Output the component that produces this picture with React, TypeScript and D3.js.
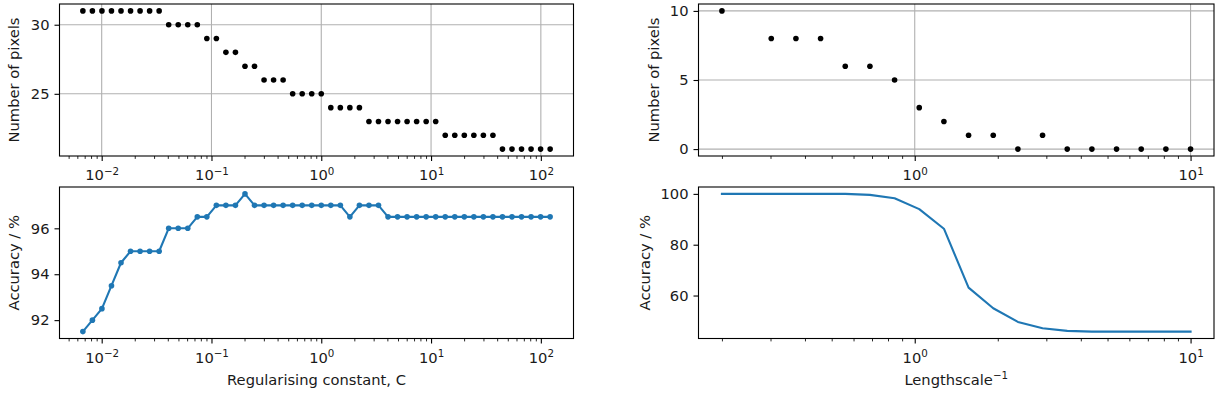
import React, { useEffect, useRef } from 'react';
import * as d3 from 'd3';

// Regularising constant C (log spaced)
const C_VALUES = [
  0.006738, 0.00823, 0.010052, 0.012277, 0.014996, 0.018316, 0.022371, 0.027324, 0.033373, 0.040762,
  0.049787, 0.06081, 0.074274, 0.090718, 0.110803, 0.135335, 0.165299, 0.201897, 0.246597, 0.301194,
  0.367879, 0.449329, 0.548812, 0.67032, 0.818731, 1.0, 1.221403, 1.491825, 1.822119, 2.225541,
  2.718282, 3.320117, 4.0552, 4.953032, 6.049647, 7.389056, 9.025013, 11.023176, 13.463738, 16.444647,
  20.085537, 24.53253, 29.9641, 36.598234, 44.701184, 54.59815, 66.686331, 81.450869, 99.484316, 121.510418,
];

const PIXELS_C = [
  31, 31, 31, 31, 31, 31, 31, 31, 31, 30,
  30, 30, 30, 29, 29, 28, 28, 27, 27, 26,
  26, 26, 25, 25, 25, 25, 24, 24, 24, 24,
  23, 23, 23, 23, 23, 23, 23, 23, 22, 22,
  22, 22, 22, 22, 21, 21, 21, 21, 21, 21,
];

const ACCURACY_C = [
  91.5, 92, 92.5, 93.5, 94.5, 95, 95, 95, 95, 96,
  96, 96, 96.5, 96.5, 97, 97, 97, 97.5, 97, 97,
  97, 97, 97, 97, 97, 97, 97, 97, 96.5, 97,
  97, 97, 96.5, 96.5, 96.5, 96.5, 96.5, 96.5, 96.5, 96.5,
  96.5, 96.5, 96.5, 96.5, 96.5, 96.5, 96.5, 96.5, 96.5, 96.5,
];

// inverse lengthscale
const INV_LENGTHSCALE = [
  0.2, 0.24572, 0.3019, 0.37092, 0.45572, 0.5599, 0.6879, 0.84517, 1.03839, 1.27578,
  1.56745, 1.92578, 2.36604, 2.90694, 3.57151, 4.388, 5.39117, 6.62367, 8.13794, 10.0,
];

const PIXELS_L: (number | null)[] = [10, null, 8, 8, 8, 6, 6, 5, 3, 2, 1, 1, 0, 1, 0, 0, 0, 0, 0, 0];

const ACCURACY_L = [
  100, 100, 100, 100, 100, 100, 99.6, 98.3, 94, 86.3,
  63.1, 55, 49.6, 47.1, 46.1, 45.8, 45.8, 45.8, 45.8, 45.8,
];

const LEFT_X_EXPONENTS = [-2, -1, 0, 1, 2];
const RIGHT_X_EXPONENTS = [0, 1];
const PIXELS_C_TICKS = [25, 30];
const ACCURACY_C_TICKS = [92, 94, 96];
const PIXELS_L_TICKS = [0, 5, 10];
const ACCURACY_L_TICKS = [60, 80, 100];

const FONT = '"DejaVu Sans", Verdana, sans-serif';
const FS = 14.7;
const BLUE = '#1f77b4';
const INK = '#1a1a1a';

type Panel = {
  left: number; right: number; top: number; bottom: number;
  xs: number[]; ys: (number | null)[];
  exps: number[]; yTicks: number[];
  grid: boolean; kind: 'dots' | 'lineDots' | 'line';
  ylabel: string; ylabelX: number;
  xlabel?: string; xlabelSup?: string;
};

function drawPanel(svg: d3.Selection<SVGSVGElement, unknown, null, undefined>, p: Panel) {
  const pts = p.xs.map((x, i) => ({ x, y: p.ys[i] })).filter(d => d.y != null) as { x: number; y: number }[];

  const lx = d3.extent(p.xs.map(Math.log10)) as [number, number];
  const sx = lx[1] - lx[0];
  const x = d3.scaleLog()
    .domain([10 ** (lx[0] - 0.05 * sx), 10 ** (lx[1] + 0.05 * sx)])
    .range([p.left, p.right]);

  const ey = d3.extent(pts, d => d.y) as [number, number];
  const sy = ey[1] - ey[0];
  const y = d3.scaleLinear()
    .domain([ey[0] - 0.05 * sy, ey[1] + 0.05 * sy])
    .range([p.bottom, p.top]);

  const g = svg.append('g');
  const major = p.exps.map(e => 10 ** e);
  const [d0, d1] = x.domain();
  const minor: number[] = [];
  for (let e = Math.floor(Math.log10(d0)); e <= Math.ceil(Math.log10(d1)); e++) {
    for (let m = 2; m <= 9; m++) {
      const v = m * 10 ** e;
      if (v >= d0 && v <= d1) minor.push(v);
    }
  }

  // grid
  if (p.grid) {
    g.append('g').selectAll('line.gx').data(major).enter().append('line')
      .attr('x1', d => x(d)).attr('x2', d => x(d))
      .attr('y1', p.top).attr('y2', p.bottom)
      .attr('stroke', '#b0b0b0').attr('stroke-width', 1.1);
    g.append('g').selectAll('line.gy').data(p.yTicks).enter().append('line')
      .attr('x1', p.left).attr('x2', p.right)
      .attr('y1', d => y(d)).attr('y2', d => y(d))
      .attr('stroke', '#b0b0b0').attr('stroke-width', 1.1);
  }

  // data
  if (p.kind !== 'dots') {
    const line = d3.line<{ x: number; y: number }>().x(d => x(d.x)).y(d => y(d.y));
    g.append('path').datum(pts)
      .attr('d', line)
      .attr('fill', 'none')
      .attr('stroke', BLUE)
      .attr('stroke-width', 2.1)
      .attr('stroke-linejoin', 'round')
      .attr('stroke-linecap', 'square');
  }
  if (p.kind !== 'line') {
    g.append('g').selectAll('circle').data(pts).enter().append('circle')
      .attr('cx', d => x(d.x))
      .attr('cy', d => y(d.y))
      .attr('r', 2.8)
      .attr('fill', p.kind === 'dots' ? '#000' : BLUE);
  }

  // frame
  g.append('rect')
    .attr('x', p.left).attr('y', p.top)
    .attr('width', p.right - p.left).attr('height', p.bottom - p.top)
    .attr('fill', 'none').attr('stroke', '#000').attr('stroke-width', 1.1);

  // x axis: minor then major
  const xMinor = g.append('g')
    .attr('transform', `translate(0,${p.bottom})`)
    .call(d3.axisBottom(x).tickValues(minor).tickSize(2.9).tickFormat(() => ''));
  xMinor.select('.domain').remove();
  xMinor.selectAll('line').attr('stroke', '#000').attr('stroke-width', 0.85);

  const xMajor = g.append('g')
    .attr('transform', `translate(0,${p.bottom})`)
    .call(d3.axisBottom(x).tickValues(major).tickSize(5).tickFormat(() => ''));
  xMajor.select('.domain').remove();
  xMajor.selectAll('line').attr('stroke', '#000').attr('stroke-width', 1.1);
  xMajor.selectAll<SVGTextElement, number>('text')
    .attr('y', 24).attr('dy', null)
    .attr('font-family', FONT).attr('font-size', FS).attr('fill', INK)
    .each(function (d) {
      const t = d3.select(this);
      const e = Math.round(Math.log10(d));
      t.text(null);
      t.append('tspan').text('10');
      t.append('tspan').attr('dy', -5.5).attr('font-size', FS * 0.7)
        .text(String(e).replace('-', '\u2212'));
    });

  // y axis
  const yAx = g.append('g')
    .attr('transform', `translate(${p.left},0)`)
    .call(d3.axisLeft(y).tickValues(p.yTicks).tickSize(5).tickPadding(5).tickFormat(d3.format('d')));
  yAx.select('.domain').remove();
  yAx.selectAll('line').attr('stroke', '#000').attr('stroke-width', 1.1);
  yAx.selectAll('text').attr('font-family', FONT).attr('font-size', FS).attr('fill', INK);

  // labels
  g.append('text')
    .attr('transform', `translate(${p.ylabelX},${(p.top + p.bottom) / 2}) rotate(-90)`)
    .attr('text-anchor', 'middle')
    .attr('font-family', FONT).attr('font-size', FS).attr('fill', INK)
    .text(p.ylabel);

  if (p.xlabel) {
    const t = g.append('text')
      .attr('x', (p.left + p.right) / 2).attr('y', p.bottom + 46)
      .attr('text-anchor', 'middle')
      .attr('font-family', FONT).attr('font-size', FS).attr('fill', INK);
    t.append('tspan').text(p.xlabel);
    if (p.xlabelSup) {
      t.append('tspan').attr('dy', -5.5).attr('font-size', FS * 0.7).text(p.xlabelSup);
    }
  }
}

const App = () => {
  const ref = useRef<SVGSVGElement>(null);

  useEffect(() => {
    if (!ref.current) return;
    const svg = d3.select(ref.current);
    svg.selectAll('*').remove();

    const L = { left: 59.5, right: 573.5 };
    const R = { left: 698.5, right: 1214 };
    const TOP = { top: 4, bottom: 156 };
    const BOT = { top: 187, bottom: 338.5 };

    drawPanel(svg, {
      ...L, ...TOP, xs: C_VALUES, ys: PIXELS_C, exps: LEFT_X_EXPONENTS, yTicks: PIXELS_C_TICKS,
      grid: true, kind: 'dots', ylabel: 'Number of pixels', ylabelX: 19,
    });
    drawPanel(svg, {
      ...L, ...BOT, xs: C_VALUES, ys: ACCURACY_C, exps: LEFT_X_EXPONENTS, yTicks: ACCURACY_C_TICKS,
      grid: false, kind: 'lineDots', ylabel: 'Accuracy / %', ylabelX: 19,
      xlabel: 'Regularising constant, C',
    });
    drawPanel(svg, {
      ...R, ...TOP, xs: INV_LENGTHSCALE, ys: PIXELS_L, exps: RIGHT_X_EXPONENTS, yTicks: PIXELS_L_TICKS,
      grid: true, kind: 'dots', ylabel: 'Number of pixels', ylabelX: 659,
    });
    drawPanel(svg, {
      ...R, ...BOT, xs: INV_LENGTHSCALE, ys: ACCURACY_L, exps: RIGHT_X_EXPONENTS, yTicks: ACCURACY_L_TICKS,
      grid: false, kind: 'line', ylabel: 'Accuracy / %', ylabelX: 650,
      xlabel: 'Lengthscale', xlabelSup: '\u22121',
    });
  }, []);

  return (
    <div style={{ position: 'absolute', left: 0, top: 0 }}>
      <svg ref={ref} width={1225} height={399} style={{ display: 'block', background: '#fff' }} />
    </div>
  );
};

export default App;
